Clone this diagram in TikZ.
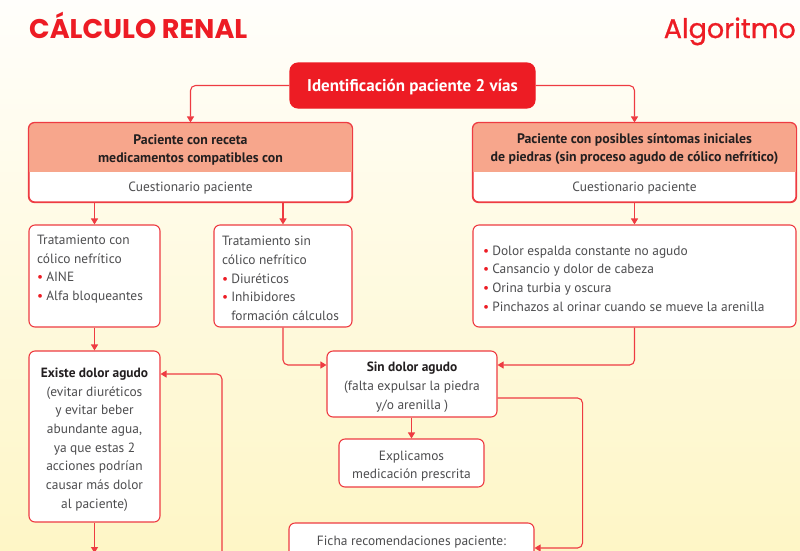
\documentclass[tikz,border=0pt]{standalone}
\usepackage{fontspec}
\setmainfont{PT Sans}
\newfontfamily\titlefont{Poppins}
\newfontfamily\algofont{Poppins}[FakeBold=0.8]
\usetikzlibrary{arrows.meta,calc}
\definecolor{myred}{HTML}{ED1C24}
\definecolor{lred}{HTML}{EE3B42}
\definecolor{salmon}{HTML}{F7A68C}
\definecolor{txt}{HTML}{4D4D4F}
\definecolor{dark}{HTML}{231F20}
\definecolor{bgtop}{HTML}{FFFEFB}
\definecolor{bgbot}{HTML}{FEF6C6}
\newcommand{\bul}{{\color{myred}\textbullet}\hspace{3pt}}
\tikzset{
  box/.style={draw=lred, line width=1.1pt, rounded corners=6pt, fill=white, inner sep=0pt},
  conn/.style={draw=lred, line width=1.1pt, rounded corners=5pt, -{Triangle[length=6pt,width=7pt]}},
  body/.style={font=\fontsize{13.4}{18.7}\selectfont, text=txt, inner sep=0pt},
  head/.style={font=\bfseries\fontsize{13.8}{18}\selectfont, text=dark, inner sep=0pt, align=center},
  titlest/.style={font=\titlefont\bfseries\fontsize{27}{30}\selectfont, text=myred, inner sep=0pt}
}
\begin{document}
\begin{tikzpicture}[x=1pt,y=-1pt]
\useasboundingbox (0,0) rectangle (800,550);
\clip (0,0) rectangle (800,550);
\shade[top color=bgtop, bottom color=bgbot] (0,0) rectangle (800,550);

% titles
\node[titlest, anchor=base west] (title) at (29,38) {CÁLCULO RENAL};
\node[titlest, anchor=base east, font=\algofont\fontsize{27}{30}\selectfont] (algo) at (796,38) {Algoritmo};

% top node
\node[box, draw=myred, fill=myred, rounded corners=8pt, minimum width=245, minimum height=45] (top) at (412.5,85.5) {};
\node[font=\bfseries\fontsize{17}{20}\selectfont, text=white, inner sep=0pt] (toptxt) at (412.5,87.5) {Identificación paciente 2 vías};

% header boxes
\node[box, minimum width=323, minimum height=79] (lhdr) at (190.5,162.5) {};
\node[box, minimum width=323, minimum height=79] (rhdr) at (634.5,162.5) {};
\begin{scope}
  \clip[rounded corners=6pt] (29,123) rectangle (352,202);
  \fill[salmon] (29,123) rectangle (352,172);
\end{scope}
\begin{scope}
  \clip[rounded corners=6pt] (473,123) rectangle (796,202);
  \fill[salmon] (473,123) rectangle (796,172);
\end{scope}
\draw[lred, line width=1.1pt, rounded corners=6pt] (lhdr.north west) rectangle (lhdr.south east);
\draw[lred, line width=1.1pt, rounded corners=6pt] (rhdr.north west) rectangle (rhdr.south east);
\node[head] (lhdrt) at (190.5,149.5) {Paciente con receta\\medicamentos compatibles con};
\node[body] (lhdrs) at (190.5,188.5) {Cuestionario paciente};
\node[head] (rhdrt) at (634.5,149.5) {Paciente con posibles síntomas iniciales\\de piedras (sin proceso agudo de cólico nefrítico)};
\node[body] (rhdrs) at (634.5,188.5) {Cuestionario paciente};

% second row
\node[box, minimum width=131, minimum height=102] (tcon) at (94.5,276) {};
\node[body, anchor=west, align=left] (tcont) at (37,269) {Tratamiento con\\cólico nefrítico\\\bul AINE\\\bul Alfa bloqueantes};
\node[box, minimum width=138, minimum height=102] (tsin) at (283,276) {};
\node[body, anchor=west, align=left] (tsint) at (222,278.5) {Tratamiento sin\\cólico nefrítico\\\bul Diuréticos\\\bul Inhibidores\\\hphantom{\bul}formación cálculos};
\node[box, minimum width=323, minimum height=102] (list) at (634.5,276) {};
\node[body, anchor=west, align=left] (listt) at (483,278.5) {\bul Dolor espalda constante no agudo\\\bul Cansancio y dolor de cabeza\\\bul Orina turbia y oscura\\\bul Pinchazos al orinar cuando se mueve la arenilla};

% third row
\node[box, minimum width=131, minimum height=171] (exist) at (94.5,436.5) {};
\node[body, align=center] (existt) at (94.5,439.5) {{\bfseries\color{dark}Existe dolor agudo}\\(evitar diuréticos\\y evitar beber\\abundante agua,\\ya que estas 2\\acciones podrían\\causar más dolor\\al paciente)};
\node[box, minimum width=170, minimum height=66] (sin) at (412,384) {};
\node[body, align=center] (sint) at (412,387) {{\bfseries\color{dark}Sin dolor agudo}\\(falta expulsar la piedra\\y/o arenilla )};
\node[box, minimum width=145, minimum height=48] (expl) at (411.5,463) {};
\node[body, align=center] (explt) at (411.5,466) {Explicamos\\medicación prescrita};
\node[box, minimum width=245, minimum height=77] (ficha) at (411.5,561.5) {};
\node[body] (fichat) at (411.5,542.5) {Ficha recomendaciones paciente:};

% connectors
\draw[conn] (top.west) -| (lhdr.north);
\draw[conn] (top.east) -| (rhdr.north);
\draw[conn] (tcon.north |- lhdr.south) -- (tcon.north);
\draw[conn] (tsin.north |- lhdr.south) -- (tsin.north);
\draw[conn] (rhdr.south) -- (list.north);
\draw[conn] (tcon.south) -- (exist.north);
\draw[conn] (tsin.south) |- ([yshift=19pt]sin.west);
\draw[conn] (list.south) |- ([yshift=19pt]sin.east);
\draw[conn] (expl.north |- sin.south) -- (expl.north);
\draw[conn] ([yshift=-14pt]sin.east) -| ($(ficha.east)+(48,-13.5)$) -- ([yshift=13.5pt]ficha.east);
\coordinate (eb) at (94.5,553);
\draw[conn] (exist.south) -- (eb);
\coordinate (rb) at (222,570);
\draw[conn] (rb) |- ([yshift=62.5pt]exist.east);
\end{tikzpicture}
\end{document}
